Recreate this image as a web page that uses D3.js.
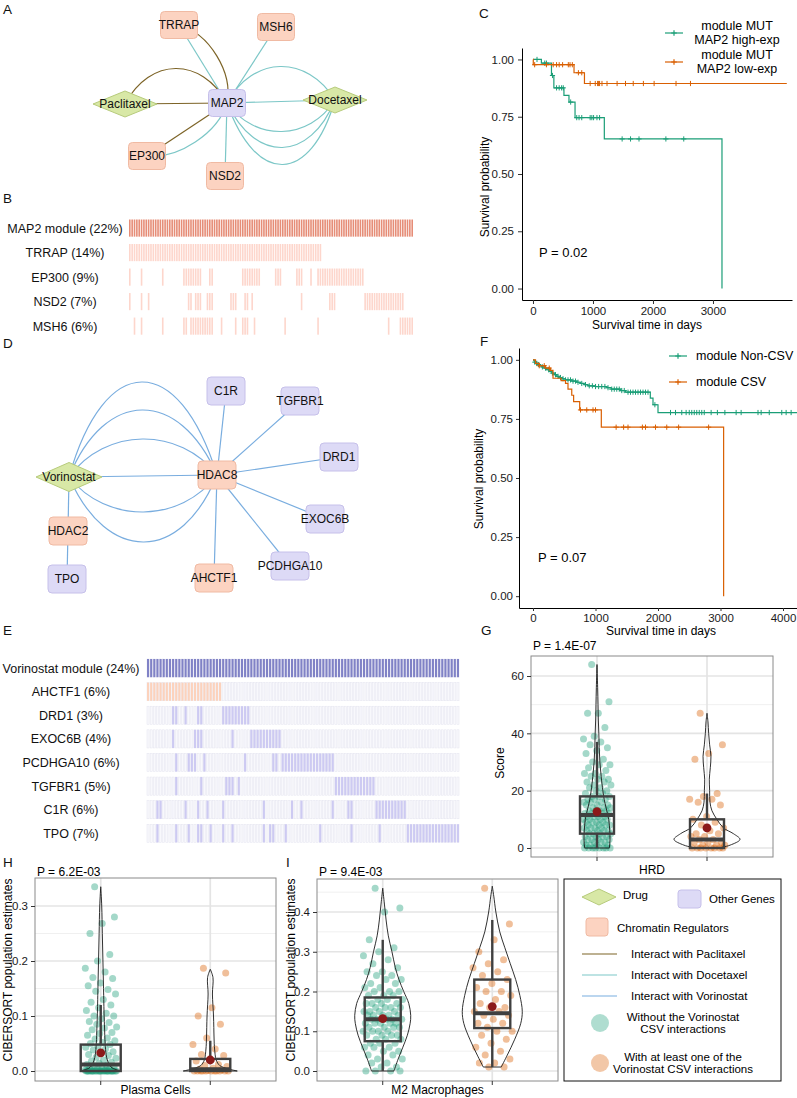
<!DOCTYPE html>
<html>
<head>
<meta charset="utf-8">
<title>MAP2 and Vorinostat modules</title>
<script src="https://cdn.jsdelivr.net/npm/d3@7/dist/d3.min.js"></script>
<style>
  body { margin: 0; background: #fff; }
  svg { font-family: "Liberation Sans", Arial, Helvetica, sans-serif; }
</style>
</head>
<body>
<script>
//================ data ================

// A: MAP2 drug network (type: cr = chromatin regulator, gene = other gene, drug)
var netANodes = [
  {id: "TRRAP", type: "cr"}, {id: "MSH6", type: "cr"}, {id: "Paclitaxel", type: "drug"},
  {id: "MAP2", type: "gene"}, {id: "Docetaxel", type: "drug"}, {id: "EP300", type: "cr"},
  {id: "NSD2", type: "cr"}];
// source, target, drug, bend
var netAEdges = [
  ["TRRAP", "MAP2", "doc", 0], ["TRRAP", "MAP2", "pac", -16], ["MSH6", "MAP2", "doc", 0],
  ["Paclitaxel", "MAP2", "pac", 0], ["Paclitaxel", "MAP2", "pac", -35],
  ["MAP2", "Docetaxel", "doc", 0], ["MAP2", "Docetaxel", "doc", -35],
  ["MAP2", "Docetaxel", "doc", 30], ["MAP2", "Docetaxel", "doc", 46], ["MAP2", "Docetaxel", "doc", 63],
  ["EP300", "MAP2", "pac", 0], ["EP300", "MAP2", "doc", 15], ["NSD2", "MAP2", "doc", 0]];

// D: Vorinostat network
var netDNodes = [
  {id: "Vorinostat", type: "drug"}, {id: "HDAC8", type: "cr"}, {id: "C1R", type: "gene"},
  {id: "TGFBR1", type: "gene"}, {id: "DRD1", type: "gene"}, {id: "EXOC6B", type: "gene"},
  {id: "PCDHGA10", type: "gene"}, {id: "AHCTF1", type: "cr"}, {id: "HDAC2", type: "cr"},
  {id: "TPO", type: "gene"}];
var netDEdges = [
  ["Vorinostat", "HDAC8", "vor", 0], ["Vorinostat", "HDAC8", "vor", -94],
  ["Vorinostat", "HDAC8", "vor", -66], ["Vorinostat", "HDAC8", "vor", -37],
  ["Vorinostat", "HDAC8", "vor", 36], ["Vorinostat", "HDAC8", "vor", 66],
  ["HDAC8", "C1R", "vor", 0], ["HDAC8", "TGFBR1", "vor", 0], ["HDAC8", "DRD1", "vor", 0],
  ["HDAC8", "EXOC6B", "vor", 0], ["HDAC8", "PCDHGA10", "vor", 0], ["HDAC8", "AHCTF1", "vor", 0],
  ["Vorinostat", "HDAC2", "vor", 0], ["HDAC2", "TPO", "vor", 0]];

// B: mutation columns (single index or [from, to])
var oncoBRows = ["MAP2 module (22%)", "TRRAP (14%)", "EP300 (9%)", "NSD2 (7%)", "MSH6 (6%)"];
var oncoBSamples = 121;
var oncoBCols = [
  [[0, 120]],
  [[0, 81]],
  [0, 5, 14, [23, 30], [34, 35], [48, 55], [62, 64], [71, 73], 77, [80, 99]],
  [0, 5, 8, [25, 26], [28, 30], [33, 35], [43, 45], [49, 50], 52, 73, [85, 87], [100, 116]],
  [2, 5, 14, [23, 24], [26, 35], 39, 45, [48, 50], 53, 66, 80, 110, [115, 120]]];

// E: Vorinostat module oncoprint
var oncoERows = ["Vorinostat module (24%)", "AHCTF1 (6%)", "DRD1 (3%)", "EXOC6B (4%)",
  "PCDHGA10 (6%)", "TGFBR1 (5%)", "C1R (6%)", "TPO (7%)"];
var oncoESamples = 100;
var oncoECols = [
  [[0, 99]],
  [[0, 23]],
  [8, 9, 12, 16, 17, [24, 32]],
  [8, 15, 16, 17, 27, [33, 42]],
  [9, [13, 15], 18, 31, [40, 41], [43, 59]],
  [9, 17, [25, 27], 29, [60, 72]],
  [3, 4, 12, 16, 19, 24, 37, 46, 49, 59, [64, 65], [73, 82]],
  [3, 9, 13, 16, 17, 20, 24, 27, 37, [39, 40], 44, 55, 65, 74, [83, 99]]];

// C: Kaplan-Meier, [day, survival] at each step
var kmCHigh = [[0, 1], [140, 0.984], [308, 0.93], [348, 0.876], [516, 0.843], [600, 0.814],
  [701, 0.746], [1189, 0.653], [3150, 0]];
var kmCLow = [[0, 1], [5, 0.977], [684, 0.942], [858, 0.895], [4230, 0.895]];
var censCHigh = [67, 196, 224, 325, 393, 437, 477, 505, 628, 729, 768, 813, 953, 981, 1010,
  1066, 1110, 1486, 1626, 1767, 2215, 2513];
var censCLow = [28, 224, 337, 393, 437, 494, 589, 617, 656, 757, 813, 953, 1038, 1077, 1094,
  1110, 1150, 1234, 1402, 1542, 1671, 1840, 2019, 2384, 2625];

// F: Kaplan-Meier CSV vs non-CSV
var kmFNon = [[0, 1], [15, 0.995], [30, 0.99], [50, 0.985], [80, 0.98], [110, 0.975], [140, 0.97],
  [180, 0.965], [220, 0.958], [260, 0.951], [300, 0.944], [340, 0.937], [380, 0.93], [420, 0.925],
  [460, 0.92], [520, 0.915], [620, 0.91], [700, 0.905], [760, 0.9], [820, 0.895], [880, 0.89],
  [1000, 0.887], [1180, 0.882], [1250, 0.876], [1400, 0.87], [1480, 0.863], [1877, 0.838],
  [1920, 0.81], [2000, 0.777], [4224, 0.777]];
var kmFCsv = [[0, 1], [40, 0.985], [100, 0.975], [200, 0.965], [280, 0.955], [320, 0.922],
  [450, 0.912], [520, 0.9], [560, 0.876], [620, 0.85], [650, 0.823], [747, 0.788], [1093, 0.715],
  [3050, 0]];
var censFNon = [30, 60, 90, 150, 200, 250, 310, 360, 400, 440, 480, 520, 560, 600, 640, 680, 720,
  780, 840, 900, 950, 1000, 1050, 1100, 1150, 1200, 1260, 1300, 1340, 1380, 1420, 1460, 1520, 1560,
  1600, 1640, 1680, 1720, 1760, 1800, 1840, 1950, 2200, 2280, 2380, 2450, 2500, 2540, 2580, 2620,
  2660, 2700, 2740, 2850, 2950, 3070, 3250, 3330, 3600, 3650, 3780, 3980, 4050, 4130];
var censFCsv = [100, 180, 260, 760, 860, 960, 1000, 1330, 1450, 1520, 1750, 1800, 1960, 2140,
  2330, 2810];
var kmTicks = [0, 0.25, 0.5, 0.75, 1];
var dayTicks = [0, 1000, 2000, 3000, 4000];

// G, H, I: points (without CSV, with CSV)
var hrdNon = [64, 51, 47, 47, 42, 39, 38, 37, 36, 35, 34, 33, 31, 30, 29, 29, 28, 27, 26, 26, 25, 25,
  24, 24, 23, 23, 22, 22, 21, 21, 20, 20, 19, 19, 18, 18, 18, 17, 17, 17, 16, 16, 16, 15, 15, 15, 14,
  14, 14, 13, 13, 13, 13, 12, 12, 12, 12, 11, 11, 11, 11, 10, 10, 10, 10, 9, 9, 9, 9, 8, 8, 8, 8, 7,
  7, 7, 7, 6, 6, 6, 6, 5, 5, 5, 5, 4, 4, 4, 4, 3, 3, 3, 3, 2, 2, 2, 2, 1, 1, 1, 1, 0, 0, 0, 0, 0, 0, 0, 0];
var hrdCsv = [47, 36, 33, 31, 19, 18, 17, 17, 16, 15, 11, 10, 9, 8, 7, 6, 5, 5, 4, 4, 3, 3, 2, 2, 2,
  1, 1, 1, 0, 0, 0, 0, 0, 0, 0, 0];
var plasmaNon = [0.335, 0.28, 0.268, 0.25, 0.212, 0.2, 0.187, 0.18, 0.17, 0.168, 0.16, 0.155, 0.148,
  0.145, 0.14, 0.13, 0.125, 0.12, 0.115, 0.11, 0.105, 0.1, 0.1, 0.095, 0.09, 0.088, 0.085, 0.08,
  0.078, 0.075, 0.07, 0.068, 0.065, 0.06, 0.058, 0.055, 0.052, 0.05, 0.048, 0.045, 0.043, 0.04,
  0.038, 0.035, 0.033, 0.03, 0.028, 0.025, 0.023, 0.02, 0.018, 0.016, 0.014, 0.012, 0.01, 0.009,
  0.008, 0.006, 0.005, 0.004, 0.003, 0.002, 0.001, 0, 0, 0, 0, 0, 0, 0, 0, 0, 0, 0, 0, 0, 0, 0, 0,
  0, 0, 0, 0, 0, 0, 0, 0, 0, 0];
var plasmaCsv = [0.187, 0.178, 0.115, 0.1, 0.085, 0.06, 0.048, 0.04, 0.03, 0.028, 0.022, 0.018,
  0.012, 0.01, 0.008, 0.005, 0.003, 0.002, 0.001, 0, 0, 0, 0, 0, 0, 0, 0, 0, 0, 0];
var m2Non = [0.46, 0.41, 0.4, 0.33, 0.31, 0.3, 0.29, 0.28, 0.27, 0.26, 0.25, 0.25, 0.24, 0.24, 0.23,
  0.23, 0.22, 0.22, 0.21, 0.21, 0.2, 0.2, 0.2, 0.19, 0.19, 0.19, 0.18, 0.18, 0.18, 0.17, 0.17, 0.17,
  0.17, 0.16, 0.16, 0.16, 0.16, 0.15, 0.15, 0.15, 0.15, 0.14, 0.14, 0.14, 0.14, 0.14, 0.13, 0.13,
  0.13, 0.13, 0.13, 0.12, 0.12, 0.12, 0.12, 0.12, 0.11, 0.11, 0.11, 0.11, 0.1, 0.1, 0.1, 0.1, 0.09,
  0.09, 0.09, 0.09, 0.08, 0.08, 0.08, 0.07, 0.07, 0.07, 0.06, 0.06, 0.06, 0.05, 0.05, 0.04, 0.04,
  0.03, 0.03, 0.02, 0.02, 0.01, 0.01, 0, 0, 0, 0];
var m2Csv = [0.46, 0.37, 0.33, 0.3, 0.28, 0.27, 0.26, 0.25, 0.24, 0.23, 0.22, 0.21, 0.2, 0.2, 0.19,
  0.18, 0.17, 0.16, 0.16, 0.15, 0.15, 0.14, 0.14, 0.13, 0.12, 0.12, 0.11, 0.1, 0.1, 0.09, 0.08, 0.07,
  0.06, 0.05, 0.04, 0.03, 0.02, 0.02, 0.01, 0.01];

// box stats: min, q1, median, q3, max, mean
var boxHrd = [[0, 5, 11.5, 18, 37, 12.7], [0, 0, 3, 10, 19, 7]];
var boxPlasma = [[0, 0, 0.012, 0.048, 0.12, 0.033], [0, 0, 0.003, 0.022, 0.055, 0.02]];
var boxM2 = [[0, 0.075, 0.13, 0.185, 0.33, 0.132], [0.01, 0.108, 0.145, 0.23, 0.38, 0.162]];

// violin outlines: [value, relative density]
var vioHrd = [
  [[0, 0.95], [3, 1], [6, 0.98], [10, 0.9], [14, 0.7], [17, 0.55], [20, 0.45], [25, 0.32], [30, 0.22],
   [35, 0.17], [40, 0.14], [45, 0.1], [50, 0.08], [56, 0.05], [64, 0]],
  [[0, 0.35], [1, 0.7], [3, 1], [5, 0.8], [7, 0.5], [10, 0.3], [13, 0.15], [16, 0.09], [20, 0.08],
   [24, 0.07], [28, 0.1], [32, 0.12], [36, 0.08], [40, 0.05], [44, 0.03], [47, 0]]];
var vioPlasma = [
  [[0, 1], [0.005, 0.6], [0.01, 0.45], [0.02, 0.33], [0.03, 0.27], [0.05, 0.22], [0.08, 0.19],
   [0.1, 0.17], [0.15, 0.14], [0.2, 0.11], [0.25, 0.08], [0.3, 0.05], [0.335, 0]],
  [[0, 1], [0.004, 0.65], [0.01, 0.35], [0.02, 0.22], [0.04, 0.16], [0.06, 0.14], [0.1, 0.12],
   [0.14, 0.08], [0.17, 0.1], [0.185, 0]]];
var vioM2 = [
  [[0, 0.4], [0.03, 0.55], [0.06, 0.72], [0.09, 0.88], [0.12, 0.98], [0.14, 1], [0.17, 0.93],
   [0.2, 0.75], [0.23, 0.58], [0.26, 0.45], [0.3, 0.33], [0.34, 0.2], [0.38, 0.12], [0.42, 0.06],
   [0.46, 0]],
  [[0.01, 0.3], [0.04, 0.5], [0.08, 0.75], [0.12, 0.95], [0.15, 1], [0.19, 0.92], [0.23, 0.78],
   [0.27, 0.6], [0.31, 0.42], [0.35, 0.25], [0.4, 0.12], [0.44, 0.05], [0.465, 0]]];

//================ styles ================
var green = "#1b9e77", orange = "#d95f02";
var nodeFill = {cr: "#fcd3c1", gene: "#dddaf6", drug: "#d8e8a6"};
var nodeStroke = {cr: "#f0baa3", gene: "#c6c0ea", drug: "#b7cb7c"};
var edgeColor = {pac: "#7d6427", doc: "#7cc7c7", vor: "#79addf"};

var svg = d3.select("body").append("svg").attr("width", 797).attr("height", 1098);

//================ helpers ================
function expandCols(list){
  var out = [];
  list.forEach(function(c){
    if (Array.isArray(c)) { for (var k = c[0]; k <= c[1]; k++) out.push(k); }
    else out.push(c);
  });
  return out;
}

// survival value at time t
function survAt(steps, t){
  var s = steps[0][1];
  steps.forEach(function(p){ if (p[0] <= t) s = p[1]; });
  return s;
}

// deterministic jitter in [-1, 1]
function jit(i){ return ((i * 0.6180339887 + 0.31) % 1) * 2 - 1; }

function edgePath(a, b, bend){
  if (!bend) return "M" + a + "L" + b;
  var dx = b[0] - a[0], dy = b[1] - a[1], L = Math.hypot(dx, dy);
  var nx = -dy / L, ny = dx / L, c = bend / 0.75;
  var c1 = [a[0] + dx * 0.25 + nx * c, a[1] + dy * 0.25 + ny * c];
  var c2 = [a[0] + dx * 0.75 + nx * c, a[1] + dy * 0.75 + ny * c];
  return "M" + a + "C" + c1 + " " + c2 + " " + b;
}

function styleAxis(a, size){
  a.attr("font-family", null).attr("font-size", size);
  a.selectAll("text").attr("fill", "#1a1a1a");
  a.selectAll("line").attr("stroke", "#333");
}

//================ networks (A, D) ================
function drawNetwork(nodes, edges, pos, box){
  var g = svg.append("g");
  g.selectAll(null).data(edges).enter().append("path")
    .attr("d", function(e){ return edgePath(pos[e[0]], pos[e[1]], e[3]); })
    .attr("fill", "none")
    .attr("stroke", function(e){ return edgeColor[e[2]]; })
    .attr("stroke-width", 1.2);

  var n = g.selectAll(null).data(nodes).enter().append("g")
    .attr("transform", function(d){ return "translate(" + pos[d.id] + ")"; });
  n.each(function(d){
    var s = d3.select(this);
    if (d.type == "drug") {
      var w = box.drugW / 2, h = box.drugH / 2;
      s.append("path").attr("d", "M" + (-w) + ",0L0," + (-h) + "L" + w + ",0L0," + h + "Z")
        .attr("fill", nodeFill.drug).attr("stroke", nodeStroke.drug);
    } else {
      s.append("rect").attr("x", -box.w / 2).attr("y", -box.h / 2)
        .attr("width", box.w).attr("height", box.h).attr("rx", 4)
        .attr("fill", nodeFill[d.type]).attr("stroke", nodeStroke[d.type]);
    }
  });
  n.append("text").attr("text-anchor", "middle").attr("dy", "0.36em")
    .attr("font-size", 12).attr("fill", "#111")
    .text(function(d){ return d.id; });
}

drawNetwork(netANodes, netAEdges, {
  TRRAP: [179, 25], MSH6: [276, 27], Paclitaxel: [125, 104], MAP2: [227, 103],
  Docetaxel: [335, 100], EP300: [147, 156], NSD2: [225, 176]
}, {w: 37, h: 27, drugW: 64, drugH: 26});

drawNetwork(netDNodes, netDEdges, {
  Vorinostat: [69, 477], HDAC8: [217, 475], C1R: [226, 391], TGFBR1: [300, 401],
  DRD1: [339, 457], EXOC6B: [325, 519], PCDHGA10: [290, 566], AHCTF1: [214, 578],
  HDAC2: [68, 531], TPO: [67, 579]
}, {w: 38, h: 28, drugW: 66, drugH: 29});

//================ oncoprints (B, E) ================
function drawOnco(o){
  var x = d3.scaleBand().domain(d3.range(o.n)).range(o.xr).paddingInner(o.gap);
  var y = d3.scaleBand().domain(o.rows).range(o.yr).paddingInner(o.rowGap);
  var g = svg.append("g");
  o.rows.forEach(function(r, i){
    if (o.bg) {
      g.selectAll(null).data(d3.range(o.n)).enter().append("rect")
        .attr("x", function(c){ return x(c); }).attr("y", y(r))
        .attr("width", x.bandwidth()).attr("height", y.bandwidth())
        .attr("fill", "#f8f8fc").attr("stroke", "#e4e4ef").attr("stroke-width", 0.5);
    }
    g.selectAll(null).data(expandCols(o.cols[i])).enter().append("rect")
      .attr("x", function(c){ return x(c); }).attr("y", y(r))
      .attr("width", x.bandwidth()).attr("height", y.bandwidth())
      .attr("fill", o.colors[i]);
    g.append("text").attr("x", o.labelX).attr("y", y(r) + y.bandwidth() / 2)
      .attr("dy", "0.36em").attr("text-anchor", "middle").attr("font-size", 12.5)
      .attr("fill", "#111").text(r);
  });
}

drawOnco({rows: oncoBRows, cols: oncoBCols, n: oncoBSamples, xr: [129, 413], gap: 0.32,
  yr: [219.5, 334.7], rowGap: 0.3, labelX: 65, bg: false,
  colors: ["#e68d77", "#fdd6cc", "#fdd6cc", "#fdd6cc", "#fdd6cc"]});

drawOnco({rows: oncoERows, cols: oncoECols, n: oncoESamples, xr: [147, 459], gap: 0.33,
  yr: [659, 842.4], rowGap: 0.23, labelX: 71, bg: true,
  colors: ["#8082c6", "#fcd2bc", "#cdcaf2", "#cdcaf2", "#cdcaf2", "#cdcaf2", "#cdcaf2", "#cdcaf2"]});

//================ survival curves (C, F) ================
function drawKM(o){
  var x = d3.scaleLinear().domain(o.xdom).range(o.xr);
  var y = d3.scaleLinear().domain([-0.05, 1.05]).range(o.yr);
  var g = svg.append("g");

  var xa = g.append("g").attr("transform", "translate(0," + o.yr[0] + ")")
    .call(d3.axisBottom(x).tickValues(dayTicks.filter(function(t){ return t <= o.maxTick; }))
      .tickFormat(d3.format("d")).tickSize(o.tick).tickSizeOuter(0).tickPadding(3));
  var ya = g.append("g").attr("transform", "translate(" + o.xr[0] + ",0)")
    .call(d3.axisLeft(y).tickValues(kmTicks).tickFormat(d3.format(".2f"))
      .tickSize(o.tick).tickSizeOuter(0).tickPadding(o.pad));
  styleAxis(xa, 11.5); styleAxis(ya, 11.5);
  xa.select(".domain").attr("stroke", "#000");
  ya.select(".domain").attr("stroke", "#000");

  var line = d3.line().x(function(d){ return x(d[0]); }).y(function(d){ return y(d[1]); })
    .curve(d3.curveStepAfter);
  o.series.forEach(function(s){
    g.append("path").datum(s.steps).attr("d", line)
      .attr("fill", "none").attr("stroke", s.color).attr("stroke-width", 1.2);
    g.selectAll(null).data(s.cens).enter().append("path")
      .attr("d", "M-2.6,0H2.6M0,-2.6V2.6")
      .attr("transform", function(t){ return "translate(" + x(t) + "," + y(survAt(s.steps, t)) + ")"; })
      .attr("stroke", s.color).attr("stroke-width", 1);
  });

  // axis titles and p value
  g.append("text").attr("x", (o.xr[0] + o.xr[1]) / 2 + o.xtOff).attr("y", o.xtY)
    .attr("text-anchor", "middle").attr("font-size", 12).text("Survival time in days");
  g.append("text").attr("transform", "translate(" + o.ytX + "," + o.ytY + ") rotate(-90)")
    .attr("text-anchor", "middle").attr("font-size", 12).text("Survival probability");
  g.append("text").attr("x", o.pPos[0]).attr("y", o.pPos[1]).attr("font-size", 13).text(o.p);

  // legend
  o.series.forEach(function(s, i){
    var ly = o.leg.y + i * o.leg.step;
    g.append("line").attr("x1", o.leg.x).attr("x2", o.leg.x + 18).attr("y1", ly).attr("y2", ly)
      .attr("stroke", s.color).attr("stroke-width", 1.2);
    g.append("path").attr("d", "M-2.8,0H2.8M0,-2.8V2.8")
      .attr("transform", "translate(" + (o.leg.x + 9) + "," + ly + ")")
      .attr("stroke", s.color).attr("stroke-width", 1.2);
    s.label.forEach(function(t, k){
      g.append("text").attr("x", o.leg.tx).attr("y", ly + o.leg.dy[k] + (s.label.length == 1 ? 4 : 0))
        .attr("text-anchor", o.leg.anchor).attr("font-size", 12.5).text(t);
    });
  });
}

drawKM({xdom: [-183, 4317], xr: [522, 792], yr: [300, 48], maxTick: 3000, tick: 4, pad: 4,
  xtOff: -10, xtY: 329, ytX: 489, ytY: 187, pPos: [539, 257], p: "P = 0.02",
  leg: {x: 665, y: 33, step: 29, tx: 737, dy: [-3, 11], anchor: "middle"},
  series: [
    {steps: kmCHigh, cens: censCHigh, color: green, label: ["module MUT", "MAP2 high-exp"]},
    {steps: kmCLow, cens: censCLow, color: orange, label: ["module MUT", "MAP2 low-exp"]}]});

drawKM({xdom: [-224, 4224], xr: [519, 797], yr: [608, 348], maxTick: 4000, tick: 3, pad: 3,
  xtOff: 3, xtY: 635, ytX: 483, ytY: 479, pPos: [538, 562], p: "P = 0.07",
  leg: {x: 669, y: 356, step: 26, tx: 696, dy: [0], anchor: "start"},
  series: [
    {steps: kmFNon, cens: censFNon, color: green, label: ["module Non-CSV"]},
    {steps: kmFCsv, cens: censFCsv, color: orange, label: ["module CSV"]}]});

//================ violin / box panels (G, H, I) ================
function drawViolin(o){
  var f = o.frame;
  var g = svg.append("g");
  var x = d3.scalePoint().domain([0, 1]).range([f[0], f[2]]).padding(0.6);
  var y = d3.scaleLinear().domain(o.ydom).range(o.yr);

  // grid
  g.selectAll(null).data(o.minor).enter().append("line")
    .attr("x1", f[0]).attr("x2", f[2])
    .attr("y1", function(d){ return y(d); }).attr("y2", function(d){ return y(d); })
    .attr("stroke", "#eeeeee").attr("stroke-width", 0.9);
  g.selectAll(null).data(o.ticks).enter().append("line")
    .attr("x1", f[0]).attr("x2", f[2])
    .attr("y1", function(d){ return y(d); }).attr("y2", function(d){ return y(d); })
    .attr("stroke", "#e4e4e4").attr("stroke-width", 1.7);
  g.selectAll(null).data([0, 1]).enter().append("line")
    .attr("x1", function(d){ return x(d); }).attr("x2", function(d){ return x(d); })
    .attr("y1", f[1]).attr("y2", f[3])
    .attr("stroke", "#e4e4e4").attr("stroke-width", 1.7);

  // jittered points
  o.pts.forEach(function(vals, gi){
    g.selectAll(null).data(vals).enter().append("circle")
      .attr("cx", function(v, i){ return x(gi) + jit(i) * o.jw[gi]; })
      .attr("cy", function(v){ return y(v); })
      .attr("r", 3.5)
      .attr("fill", gi ? orange : green).attr("fill-opacity", 0.4);
  });

  // violins
  o.vio.forEach(function(prof, gi){
    var area = d3.area().curve(d3.curveCatmullRom)
      .y(function(d){ return y(d[0]); })
      .x0(function(d){ return x(gi) - d[1] * o.vw[gi]; })
      .x1(function(d){ return x(gi) + d[1] * o.vw[gi]; });
    g.append("path").datum(prof).attr("d", area)
      .attr("fill", "none").attr("stroke", "#1a1a1a").attr("stroke-width", 0.9);
  });

  // boxes + mean
  o.box.forEach(function(b, gi){
    var cx = x(gi), hw = o.bw;
    g.append("line").attr("x1", cx).attr("x2", cx).attr("y1", y(b[0])).attr("y2", y(b[1]))
      .attr("stroke", "#404040").attr("stroke-width", 2.4);
    g.append("line").attr("x1", cx).attr("x2", cx).attr("y1", y(b[3])).attr("y2", y(b[4]))
      .attr("stroke", "#404040").attr("stroke-width", 2.4);
    g.append("rect").attr("x", cx - hw).attr("y", y(b[3]))
      .attr("width", 2 * hw).attr("height", y(b[1]) - y(b[3]))
      .attr("fill", "none").attr("stroke", "#404040").attr("stroke-width", 2.4);
    g.append("line").attr("x1", cx - hw).attr("x2", cx + hw).attr("y1", y(b[2])).attr("y2", y(b[2]))
      .attr("stroke", "#404040").attr("stroke-width", 4);
    g.append("circle").attr("cx", cx).attr("cy", y(b[5])).attr("r", 4.4).attr("fill", "#8b1a1a");
  });

  // frame and axes
  g.append("rect").attr("x", f[0]).attr("y", f[1]).attr("width", f[2] - f[0]).attr("height", f[3] - f[1])
    .attr("fill", "none").attr("stroke", "#8a8a8a").attr("stroke-width", 1);
  var ya = g.append("g").attr("transform", "translate(" + f[0] + ",0)")
    .call(d3.axisLeft(y).tickValues(o.ticks).tickFormat(o.fmt).tickSize(4).tickPadding(3));
  ya.select(".domain").remove();
  styleAxis(ya, 11.5);
  g.selectAll(null).data([0, 1]).enter().append("line")
    .attr("x1", function(d){ return x(d); }).attr("x2", function(d){ return x(d); })
    .attr("y1", f[3]).attr("y2", f[3] + 4).attr("stroke", "#333");

  g.append("text").attr("x", f[0] + 2).attr("y", o.pY).attr("font-size", 12).text(o.p);
  g.append("text").attr("x", (f[0] + f[2]) / 2).attr("y", o.xtY)
    .attr("text-anchor", "middle").attr("font-size", 12).text(o.xt);
  g.append("text").attr("transform", "translate(" + o.ytX + "," + o.ytY + ") rotate(-90)")
    .attr("text-anchor", "middle").attr("font-size", 12).text(o.yt);
}

drawViolin({frame: [531, 656, 773, 857], ydom: [0, 60], yr: [848, 676],
  ticks: [0, 20, 40, 60], minor: [10, 30, 50], fmt: d3.format("d"),
  pts: [hrdNon, hrdCsv], jw: [14, 18], vio: vioHrd, vw: [13, 33], box: boxHrd, bw: 17,
  p: "P = 1.4E-07", pY: 650, xt: "HRD", xtY: 874, yt: "Score", ytX: 504, ytY: 763});

drawViolin({frame: [35, 878, 276, 1081], ydom: [0, 0.3], yr: [1071, 906],
  ticks: [0, 0.1, 0.2, 0.3], minor: [0.05, 0.15, 0.25], fmt: d3.format(".1f"),
  pts: [plasmaNon, plasmaCsv], jw: [16, 18], vio: vioPlasma, vw: [20, 27], box: boxPlasma, bw: 20,
  p: "P = 6.2E-03", pY: 876, xt: "Plasma Cells", xtY: 1094,
  yt: "CIBERSORT population estimates", ytX: 12, ytY: 970});

drawViolin({frame: [317, 879, 558, 1081], ydom: [0, 0.4], yr: [1071, 912],
  ticks: [0, 0.1, 0.2, 0.3, 0.4], minor: [0.05, 0.15, 0.25, 0.35, 0.45], fmt: d3.format(".1f"),
  pts: [m2Non, m2Csv], jw: [20, 20], vio: vioM2, vw: [28, 30], box: boxM2, bw: 18,
  p: "P = 9.4E-03", pY: 876, xt: "M2 Macrophages", xtY: 1094,
  yt: "CIBERSORT population estimates", ytX: 295, ytY: 970});

//================ shared legend ================
var leg = svg.append("g");
leg.append("rect").attr("x", 564).attr("y", 879).attr("width", 217).attr("height", 202)
  .attr("fill", "none").attr("stroke", "#111").attr("stroke-width", 1);
leg.append("path").attr("d", "M582,897L599,889L616,897L599,905Z")
  .attr("fill", nodeFill.drug).attr("stroke", nodeStroke.drug);
leg.append("text").attr("x", 623).attr("y", 899).attr("font-size", 11.5).text("Drug");
leg.append("rect").attr("x", 678).attr("y", 890).attr("width", 23).attr("height", 18).attr("rx", 3)
  .attr("fill", nodeFill.gene).attr("stroke", nodeStroke.gene);
leg.append("text").attr("x", 709).attr("y", 903).attr("font-size", 11.5).text("Other Genes");
leg.append("rect").attr("x", 586).attr("y", 918).attr("width", 22).attr("height", 18).attr("rx", 3)
  .attr("fill", nodeFill.cr).attr("stroke", nodeStroke.cr);
leg.append("text").attr("x", 617).attr("y", 932).attr("font-size", 11.5).text("Chromatin Regulators");

var legLines = [["pac", "Interact with Paclitaxel"], ["doc", "Interact with Docetaxel"],
  ["vor", "Interact with Vorinostat"]];
legLines.forEach(function(l, i){
  var ly = 954 + i * 21;
  leg.append("line").attr("x1", 582).attr("x2", 617).attr("y1", ly).attr("y2", ly)
    .attr("stroke", edgeColor[l[0]]).attr("stroke-width", 1.2);
  leg.append("text").attr("x", 631).attr("y", ly + 4).attr("font-size", 11.5).text(l[1]);
});

var legPts = [[green, ["Without the Vorinostat", "CSV interactions"]],
  [orange, ["With at least one of the", "Vorinostat CSV interactions"]]];
legPts.forEach(function(p, i){
  var cy = 1023 + i * 40;
  leg.append("circle").attr("cx", 600).attr("cy", cy).attr("r", 9)
    .attr("fill", p[0]).attr("fill-opacity", 0.35);
  p[1].forEach(function(t, k){
    leg.append("text").attr("x", 683).attr("y", cy - 2 + k * 12).attr("text-anchor", "middle")
      .attr("font-size", 11.5).text(t);
  });
});

//================ panel letters ================
var letters = [["A", 3, 14], ["B", 3, 203], ["C", 479, 18], ["D", 3, 348], ["E", 3, 635],
  ["F", 480, 346], ["G", 481, 635], ["H", 3, 867], ["I", 286, 867]];
svg.selectAll(null).data(letters).enter().append("text")
  .attr("x", function(d){ return d[1]; }).attr("y", function(d){ return d[2]; })
  .attr("font-size", 13.5).attr("fill", "#111")
  .text(function(d){ return d[0]; });
</script>
</body>
</html>
